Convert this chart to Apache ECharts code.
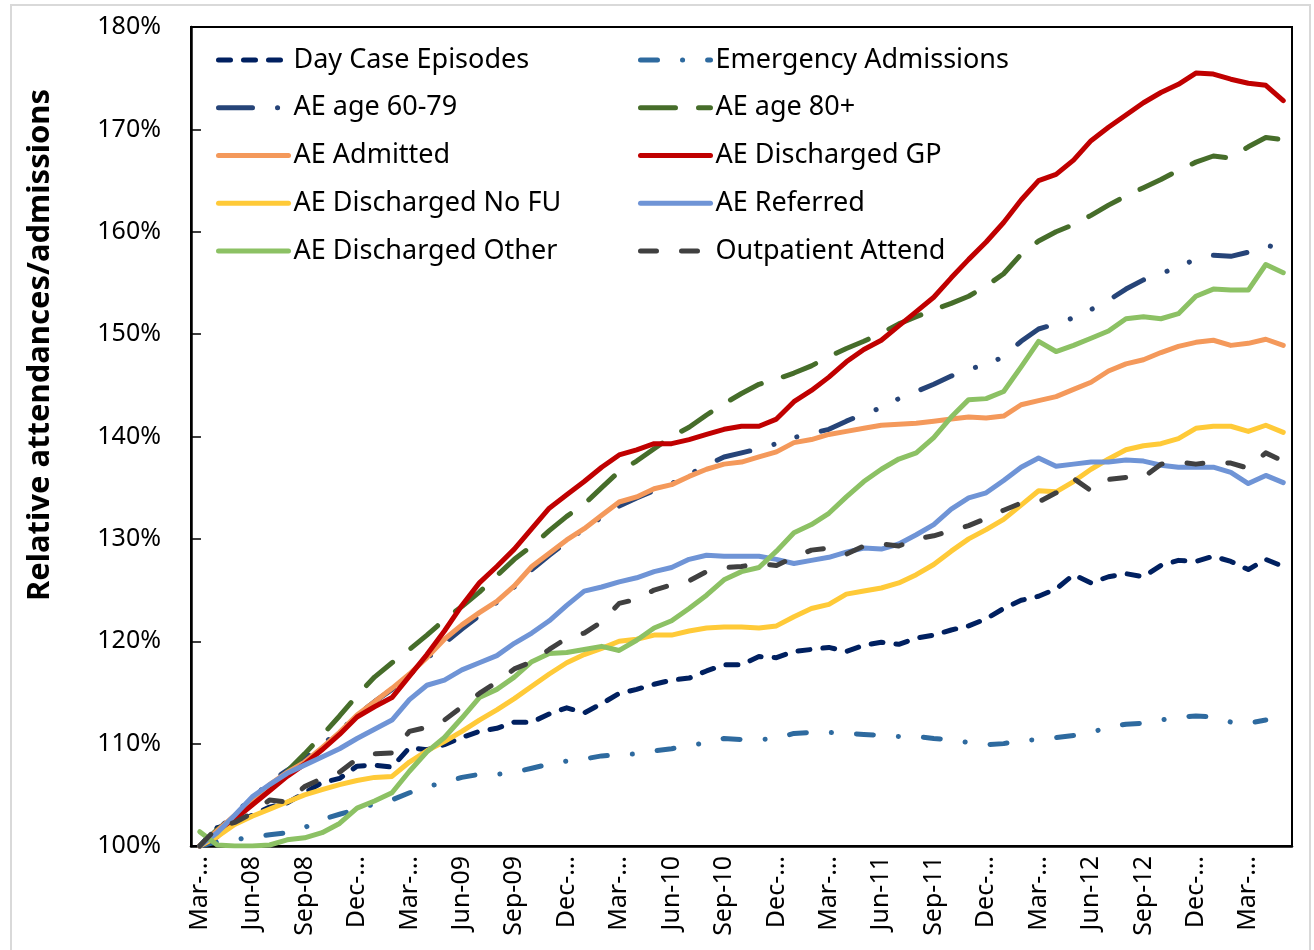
<!DOCTYPE html>
<html lang="en">
<head>
  <meta charset="UTF-8">
  <title>Relative attendances/admissions</title>
  <script src="https://cdn.jsdelivr.net/npm/echarts/dist/echarts.min.js"></script>
  <style>
    body { margin: 0; background: #fff; }
    #chart { width: 1314px; height: 950px; }
  </style>
</head>
<body>
  <div id="chart"></div>
<script>
  // months, Mar-08 .. May-13
  var months = [
    'Mar-08','Apr-08','May-08','Jun-08','Jul-08','Aug-08','Sep-08','Oct-08','Nov-08','Dec-08',
    'Jan-09','Feb-09','Mar-09','Apr-09','May-09','Jun-09','Jul-09','Aug-09','Sep-09','Oct-09',
    'Nov-09','Dec-09','Jan-10','Feb-10','Mar-10','Apr-10','May-10','Jun-10','Jul-10','Aug-10',
    'Sep-10','Oct-10','Nov-10','Dec-10','Jan-11','Feb-11','Mar-11','Apr-11','May-11','Jun-11',
    'Jul-11','Aug-11','Sep-11','Oct-11','Nov-11','Dec-11','Jan-12','Feb-12','Mar-12','Apr-12',
    'May-12','Jun-12','Jul-12','Aug-12','Sep-12','Oct-12','Nov-12','Dec-12','Jan-13','Feb-13',
    'Mar-13','Apr-13','May-13'
  ]
  // labels shown every third month (as Excel truncated them)
  var tickLabels = ['Mar-…','Jun-08','Sep-08','Dec-…','Mar-…','Jun-09','Sep-09','Dec-…','Mar-…','Jun-10','Sep-10',
    'Dec-…','Mar-…','Jun-11','Sep-11','Dec-…','Mar-…','Jun-12','Sep-12','Dec-…','Mar-…']
  var yTicks = { min: 100, max: 180, step: 10 }

  // values in % of Mar-08
  var dayCase = [
    100.0,101.8,102.2,103.0,103.8,104.2,105.2,106.2,106.6,107.8,
    107.9,107.7,109.6,109.4,109.9,110.6,111.2,111.5,112.1,112.1,
    112.9,113.5,113.0,113.9,114.9,115.3,115.8,116.2,116.4,117.1,
    117.7,117.7,118.5,118.4,119.0,119.2,119.4,119.0,119.6,119.9,
    119.7,120.3,120.6,121.1,121.5,122.2,123.2,124.0,124.4,125.1,
    126.5,125.7,126.3,126.6,126.3,127.4,127.9,127.8,128.3,127.8,
    127.0,128.0,127.3]
  var emergency = [
    100.0,100.4,100.6,100.9,101.1,101.3,101.8,102.6,103.1,103.6,
    104.1,104.5,105.2,105.8,106.2,106.7,107.0,107.0,107.2,107.6,
    108.0,108.3,108.5,108.8,108.9,109.0,109.3,109.5,109.8,110.1,
    110.5,110.4,110.4,110.5,111.0,111.1,111.1,111.0,110.9,110.8,
    110.7,110.7,110.5,110.4,110.1,109.9,110.0,110.3,110.4,110.6,
    110.8,111.1,111.6,111.9,112.0,112.3,112.6,112.7,112.6,112.1,
    112.0,112.3,null]
  var age6079 = [
    100.0,101.5,103.2,104.7,106.2,107.4,108.5,109.9,111.2,112.8,
    114.1,115.3,116.7,118.3,119.8,121.2,122.5,123.8,125.3,127.0,
    128.4,129.7,131.0,132.1,133.2,134.0,134.7,135.4,136.3,137.2,
    138.0,138.4,138.8,139.3,139.9,140.3,140.7,141.5,142.2,142.8,
    143.7,144.4,145.1,145.9,146.6,147.0,147.8,149.3,150.5,151.0,
    151.6,152.4,153.3,154.4,155.3,155.9,156.6,157.3,157.7,157.6,
    158.0,158.7,158.3]
  var age80 = [
    100.0,101.6,102.8,104.2,105.7,107.3,109.0,110.8,112.7,114.7,
    116.5,117.9,119.2,120.6,122.1,123.4,124.8,126.4,128.0,129.3,
    130.8,132.2,133.4,135.0,136.6,137.6,138.8,140.0,140.9,142.1,
    143.2,144.2,145.1,145.6,146.2,146.9,147.8,148.6,149.3,150.1,
    151.0,151.7,152.4,153.0,153.7,154.7,155.9,157.8,159.1,160.0,
    160.7,161.6,162.6,163.5,164.3,165.1,166.0,166.8,167.4,167.2,
    168.3,169.2,169.0]
  var admitted = [
    100.0,101.5,103.0,104.5,106.0,107.2,108.2,109.6,111.1,112.8,
    114.1,115.4,116.8,118.4,120.2,121.6,122.8,123.9,125.4,127.3,
    128.6,129.9,131.0,132.3,133.6,134.1,134.9,135.3,136.1,136.8,
    137.3,137.5,138.0,138.5,139.4,139.7,140.2,140.5,140.8,141.1,
    141.2,141.3,141.5,141.7,141.9,141.8,142.0,143.1,143.5,143.9,
    144.6,145.3,146.4,147.1,147.5,148.2,148.8,149.2,149.4,148.9,
    149.1,149.5,148.9]
  var dischGP = [
    100.0,100.9,102.6,104.0,105.4,106.8,108.0,109.4,110.9,112.6,
    113.6,114.5,116.6,118.7,121.0,123.5,125.7,127.3,129.0,131.0,
    133.0,134.3,135.6,137.0,138.2,138.7,139.3,139.3,139.7,140.2,
    140.7,141.0,141.0,141.7,143.4,144.5,145.8,147.3,148.5,149.4,
    150.8,152.2,153.6,155.5,157.3,159.0,160.9,163.1,165.0,165.6,
    167.0,168.9,170.2,171.4,172.6,173.6,174.4,175.5,175.4,174.9,
    174.5,174.3,172.8]
  var dischNoFU = [
    100.0,100.9,102.1,102.9,103.6,104.3,105.0,105.5,106.0,106.4,
    106.7,106.8,108.2,109.3,110.2,111.2,112.3,113.3,114.4,115.6,
    116.8,117.9,118.7,119.3,120.0,120.2,120.6,120.6,121.0,121.3,
    121.4,121.4,121.3,121.5,122.4,123.2,123.6,124.6,124.9,125.2,
    125.7,126.5,127.5,128.8,130.0,130.9,131.9,133.3,134.7,134.6,
    135.6,136.8,137.8,138.7,139.1,139.3,139.8,140.8,141.0,141.0,
    140.5,141.1,140.4]
  var referred = [
    100.0,101.3,103.0,104.8,106.0,107.1,107.9,108.7,109.5,110.5,
    111.4,112.3,114.3,115.7,116.2,117.2,117.9,118.6,119.8,120.8,
    122.0,123.5,124.9,125.3,125.8,126.2,126.8,127.2,128.0,128.4,
    128.3,128.3,128.3,128.0,127.6,127.9,128.2,128.7,129.1,129.0,
    129.5,130.4,131.4,132.9,134.0,134.5,135.7,137.0,137.9,137.1,
    137.3,137.5,137.5,137.7,137.6,137.2,137.0,137.0,137.0,136.5,
    135.4,136.2,135.5]
  var dischOther = [
    101.4,100.1,100.0,100.0,100.1,100.6,100.8,101.3,102.2,103.7,
    104.4,105.2,107.3,109.2,110.6,112.5,114.5,115.3,116.5,118.0,
    118.8,118.9,119.2,119.5,119.1,120.1,121.3,122.0,123.2,124.5,
    126.0,126.8,127.2,128.8,130.6,131.4,132.5,134.1,135.6,136.8,
    137.8,138.4,139.9,141.9,143.6,143.7,144.4,146.8,149.3,148.3,
    148.9,149.6,150.3,151.5,151.7,151.5,152.0,153.7,154.4,154.3,
    154.3,156.8,156.0]
  var outpatient = [
    100.0,101.8,102.3,103.2,104.5,104.3,105.8,106.6,107.2,108.5,
    109.0,109.1,111.2,111.6,112.3,113.6,114.9,116.0,117.3,118.0,
    119.2,120.3,120.8,121.9,123.7,124.1,125.0,125.5,125.9,126.8,
    127.2,127.3,127.6,127.4,128.2,128.9,129.1,128.5,129.3,129.5,
    129.3,130.0,130.3,130.8,131.3,132.0,132.8,133.5,133.6,134.5,
    135.9,134.7,135.8,136.0,136.0,137.3,137.5,137.3,137.5,137.4,
    136.9,138.4,137.6]

  var legendLeft = ['Day Case Episodes', 'AE age 60-79', 'AE Admitted', 'AE Discharged No FU', 'AE Discharged Other']
  var legendRight = ['Emergency Admissions', 'AE age 80+', 'AE Discharged GP', 'AE Referred', 'Outpatient Attend']

  var chart = echarts.init(document.getElementById('chart'))

  // 线条样式
  function line(name, data, color, dash) {
    return {
      name: name,
      type: 'line',
      data: data,
      symbol: 'none',
      smooth: false,
      connectNulls: false,
      lineStyle: { color: color, width: 5, type: dash || 'solid', cap: 'round', join: 'round' },
      itemStyle: { color: color }
    }
  }

  var legendBase = {
    orient: 'vertical',
    top: 45,
    padding: 0,
    itemWidth: 70,
    itemHeight: 14,
    itemGap: 17.75,
    itemStyle: { opacity: 0, borderWidth: 0 },  // 去掉图例中的圆点，只留线
    lineStyle: { width: 5, cap: 'round' },
    textStyle: { fontSize: 27, fontFamily: 'Noto Sans', color: '#000', lineHeight: 30 }
  }

  chart.setOption({
    animation: false,
    backgroundColor: '#fff',
    legend: [
      Object.assign({ data: legendLeft, left: 216 }, legendBase),
      Object.assign({ data: legendRight, left: 638 }, legendBase)
    ],
    grid: {
      left: 191,
      top: 27,
      right: 22,
      bottom: 104,
      show: true,
      borderColor: '#000',
      borderWidth: 2
    },
    xAxis: {
      type: 'category',
      data: months,
      boundaryGap: true,
      axisLine: { lineStyle: { color: '#000', width: 2.5 } },
      axisTick: { inside: true, length: 10, interval: 2, lineStyle: { color: '#000', width: 1.5 } },
      axisLabel: {
        interval: 2,
        rotate: 90,
        margin: 10,
        fontSize: 25,
        fontFamily: 'Noto Sans',
        color: '#000',
        formatter: function (value, index) {
          return tickLabels[Math.round(index / 3)]
        }
      },
      splitLine: { show: false }
    },
    yAxis: {
      type: 'value',
      min: yTicks.min,
      max: yTicks.max,
      interval: yTicks.step,
      axisLine: { show: true, lineStyle: { color: '#000', width: 2.5 } },
      axisTick: { show: true, inside: true, length: 10, lineStyle: { color: '#000', width: 1.5 } },
      axisLabel: { margin: 30, fontSize: 25, fontFamily: 'Noto Sans', color: '#000', formatter: '{value}%' },
      splitLine: { show: false }
    },
    graphic: [
      {
        type: 'rect',
        silent: true,
        shape: { x: 11, y: 5, width: 1299, height: 1000 },
        style: { fill: 'none', stroke: '#d9d9d9', lineWidth: 2 }
      },
      {
        type: 'text',
        x: 40,
        y: 345,
        rotation: Math.PI / 2,
        style: {
          text: 'Relative attendances/admissions',
          textAlign: 'center',
          textVerticalAlign: 'middle',
          font: 'bold 31px "Noto Sans"',
          fill: '#000'
        }
      }
    ],
    series: [
      line('Day Case Episodes', dayCase, '#002060', [12, 13]),
      line('Emergency Admissions', emergency, '#2E6A9F', [17, 25, 0.1, 25]),
      line('AE age 60-79', age6079, '#264478', [34, 25, 0.1, 24, 0.1, 25]),
      line('AE age 80+', age80, '#466D2A', [35, 23]),
      line('AE Admitted', admitted, '#F4995B'),
      line('AE Discharged GP', dischGP, '#C00000'),
      line('AE Discharged No FU', dischNoFU, '#FFCA38'),
      line('AE Referred', referred, '#6F94D6'),
      line('AE Discharged Other', dischOther, '#8CC164'),
      line('Outpatient Attend', outpatient, '#404040', [16, 25])
    ]
  })
</script>
</body>
</html>
